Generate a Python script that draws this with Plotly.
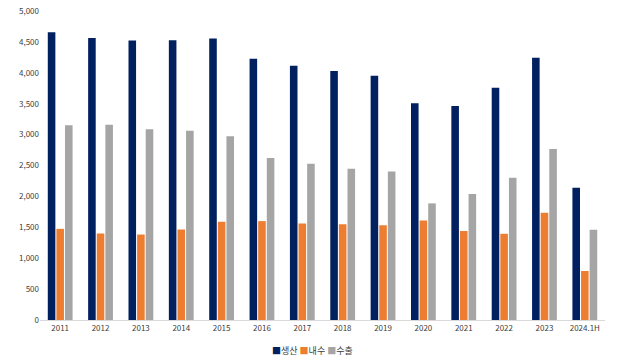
import plotly.graph_objects as go

categories = ["2011", "2012", "2013", "2014", "2015", "2016", "2017", "2018", "2019", "2020", "2021", "2022", "2023", "2024.1H"]
production = [4657, 4562, 4521, 4525, 4556, 4229, 4115, 4029, 3951, 3507, 3462, 3757, 4244, 2140]
domestic = [1475, 1400, 1383, 1463, 1589, 1600, 1560, 1550, 1533, 1611, 1439, 1395, 1735, 793]
export = [3150, 3160, 3085, 3063, 2974, 2622, 2530, 2449, 2402, 1887, 2040, 2303, 2765, 1459]

series_names = ["생산", "내수", "수출"]
colors = ["#002060", "#ED7D31", "#A5A5A5"]

fig = go.Figure()
for name, vals, col in zip(series_names, [production, domestic, export], colors):
    fig.add_trace(go.Bar(x=categories, y=vals, name=name, marker=dict(color=col, line=dict(width=0))))

legend_text = "&nbsp;".join(
    f"<span style='color:{c}'>■</span>{n}" for n, c in zip(series_names, colors)
)

font_family = "Noto Sans CJK KR, Noto Sans, sans-serif"
fig.update_layout(
    width=626, height=362,
    margin=dict(l=40, r=21, t=11, b=42, autoexpand=False),
    paper_bgcolor="white", plot_bgcolor="white",
    barmode="group", bargap=0.36, bargroupgap=0.12,
    font=dict(family=font_family, size=8, color="#404040"),
    showlegend=False,
    annotations=[dict(text=legend_text, xref="paper", yref="paper", x=0.482, y=-0.099,
                      xanchor="center", yanchor="middle", showarrow=False,
                      font=dict(size=9, color="#404040"))],
    xaxis=dict(showgrid=False, showline=True, linecolor="#D9D9D9", linewidth=1,
               ticks="", tickfont=dict(size=8)),
    yaxis=dict(range=[0, 5000], dtick=500, tickformat=",", showgrid=False,
               zeroline=False, showline=False, ticks="", tickfont=dict(size=8)),
)
fig.write_html("out.html", config={"displayModeBar": False},
               post_script="document.body.style.margin='0';document.body.style.overflow='hidden';")
